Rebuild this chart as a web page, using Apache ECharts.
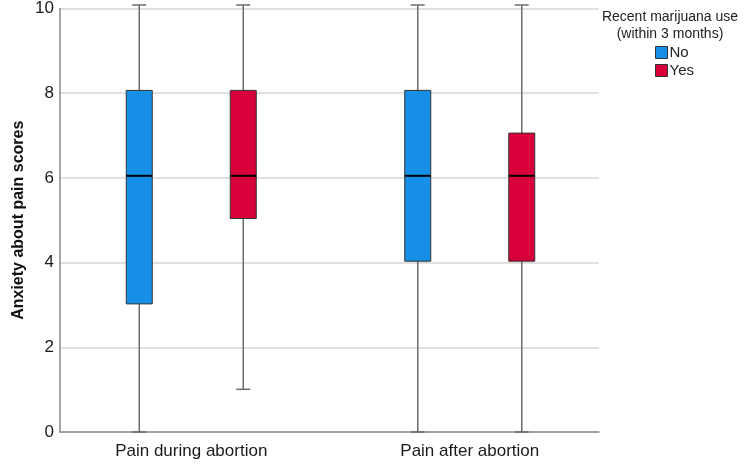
<!DOCTYPE html>
<html>
<head>
<meta charset="utf-8">
<script src="https://cdn.jsdelivr.net/npm/echarts@6/dist/echarts.min.js"></script>
<style>
  html, body { margin: 0; padding: 0; background: #fff; }
  #chart { width: 750px; height: 470px; }
</style>
</head>
<body>
<div id="chart"></div>
<script>
// ---- Data ----
const categories = ['Pain during abortion', 'Pain after abortion'];
const seriesNames = ['No', 'Yes'];
// [min, Q1, median, Q3, max] per category
const noValues = [[0, 3, 6, 8, 10], [0, 4, 6, 8, 10]];
const yesValues = [[1, 5, 6, 8, 10], [0, 4, 6, 7, 10]];
const yTicks = [0, 2, 4, 6, 8, 10];
const legendTitle = 'Recent marijuana use\n(within 3 months)';
const yAxisName = 'Anxiety about pain scores';

const FONT = 'Liberation Sans, Arial, sans-serif';
const colors = ['#1590e6', '#d8003a'];

function toRows(vals) {
  return vals.map(function (v, i) { return [i].concat(v); });
}

function makeRender(offset, color) {
  return function (params, api) {
    const cat = api.value(0);
    const x = api.coord([cat, 0])[0] + offset;
    const yMin = api.coord([cat, api.value(1)])[1];
    const yQ1 = api.coord([cat, api.value(2)])[1];
    const yMed = api.coord([cat, api.value(3)])[1];
    const yQ3 = api.coord([cat, api.value(4)])[1];
    const yMax = api.coord([cat, api.value(5)])[1];
    const bw = 26, cw = 14;
    const whisker = { stroke: '#6b6b6b', lineWidth: 1.5 };
    return {
      type: 'group',
      children: [
        { type: 'line', shape: { x1: x, y1: yMin, x2: x, y2: yMax }, style: whisker },
        { type: 'line', shape: { x1: x - cw / 2, y1: yMin, x2: x + cw / 2, y2: yMin }, style: whisker },
        { type: 'line', shape: { x1: x - cw / 2, y1: yMax, x2: x + cw / 2, y2: yMax }, style: whisker },
        { type: 'rect', shape: { x: x - bw / 2, y: yQ3, width: bw, height: yQ1 - yQ3 },
          style: { fill: color, stroke: '#333', lineWidth: 1 } },
        { type: 'line', shape: { x1: x - bw / 2, y1: yMed, x2: x + bw / 2, y2: yMed },
          style: { stroke: '#000', lineWidth: 2 } }
      ]
    };
  };
}

const chart = echarts.init(document.getElementById('chart'), null, { renderer: 'canvas' });
chart.setOption({
  animation: false,
  backgroundColor: '#fff',
  textStyle: { fontFamily: FONT },
  graphic: [{
    type: 'text', x: 670, y: 9,
    style: { text: legendTitle, align: 'center', verticalAlign: 'top',
      fontSize: 14, lineHeight: 17, fill: '#222', fontFamily: FONT }
  }],
  legend: {
    orient: 'vertical', left: 650, top: 40,
    itemWidth: 12, itemHeight: 12, itemGap: 3,
    data: seriesNames.map(function (n) { return { name: n, icon: 'rect' }; }),
    itemStyle: { borderColor: '#333', borderWidth: 1 },
    textStyle: { fontSize: 15, color: '#222', fontFamily: FONT, padding: [0, 0, 0, -3] }
  },
  grid: [
    { left: 60, right: 151, top: 5, bottom: 38 },
    { left: 52, right: 141, top: 5, bottom: 38 }
  ],
  xAxis: [
    { type: 'value', gridIndex: 0, min: 0, max: 1,
      axisLine: { show: true, lineStyle: { color: '#8c8c8c', width: 1.5 } },
      axisTick: { show: false }, axisLabel: { show: false }, splitLine: { show: false } },
    { type: 'category', gridIndex: 1, data: categories,
      axisLine: { show: false }, axisTick: { show: false },
      axisLabel: { fontSize: 17, color: '#1a1a1a', margin: 11, fontFamily: FONT } }
  ],
  yAxis: [
    { type: 'value', gridIndex: 0, min: yTicks[0], max: yTicks[yTicks.length - 1], interval: 2,
      name: yAxisName, nameLocation: 'middle', nameGap: 33, nameMoveOverlap: false,
      nameTextStyle: { fontSize: 16, fontWeight: 'bold', color: '#111', fontFamily: FONT },
      axisLine: { show: true, lineStyle: { color: '#8c8c8c', width: 1.5 } },
      axisTick: { show: false },
      axisLabel: { fontSize: 17, color: '#1a1a1a', margin: 6, fontFamily: FONT },
      splitLine: { show: true, lineStyle: { color: '#d6d6d6', width: 1.5 } } },
    { type: 'value', gridIndex: 1, min: yTicks[0], max: yTicks[yTicks.length - 1], show: false }
  ],
  series: [
    { type: 'custom', name: seriesNames[0], xAxisIndex: 1, yAxisIndex: 1,
      itemStyle: { color: colors[0] }, encode: { x: 0, y: [1, 2, 3, 4, 5] },
      data: toRows(noValues), renderItem: makeRender(-52, colors[0]) },
    { type: 'custom', name: seriesNames[1], xAxisIndex: 1, yAxisIndex: 1,
      itemStyle: { color: colors[1] }, encode: { x: 0, y: [1, 2, 3, 4, 5] },
      data: toRows(yesValues), renderItem: makeRender(52, colors[1]) }
  ]
});
</script>
</body>
</html>
